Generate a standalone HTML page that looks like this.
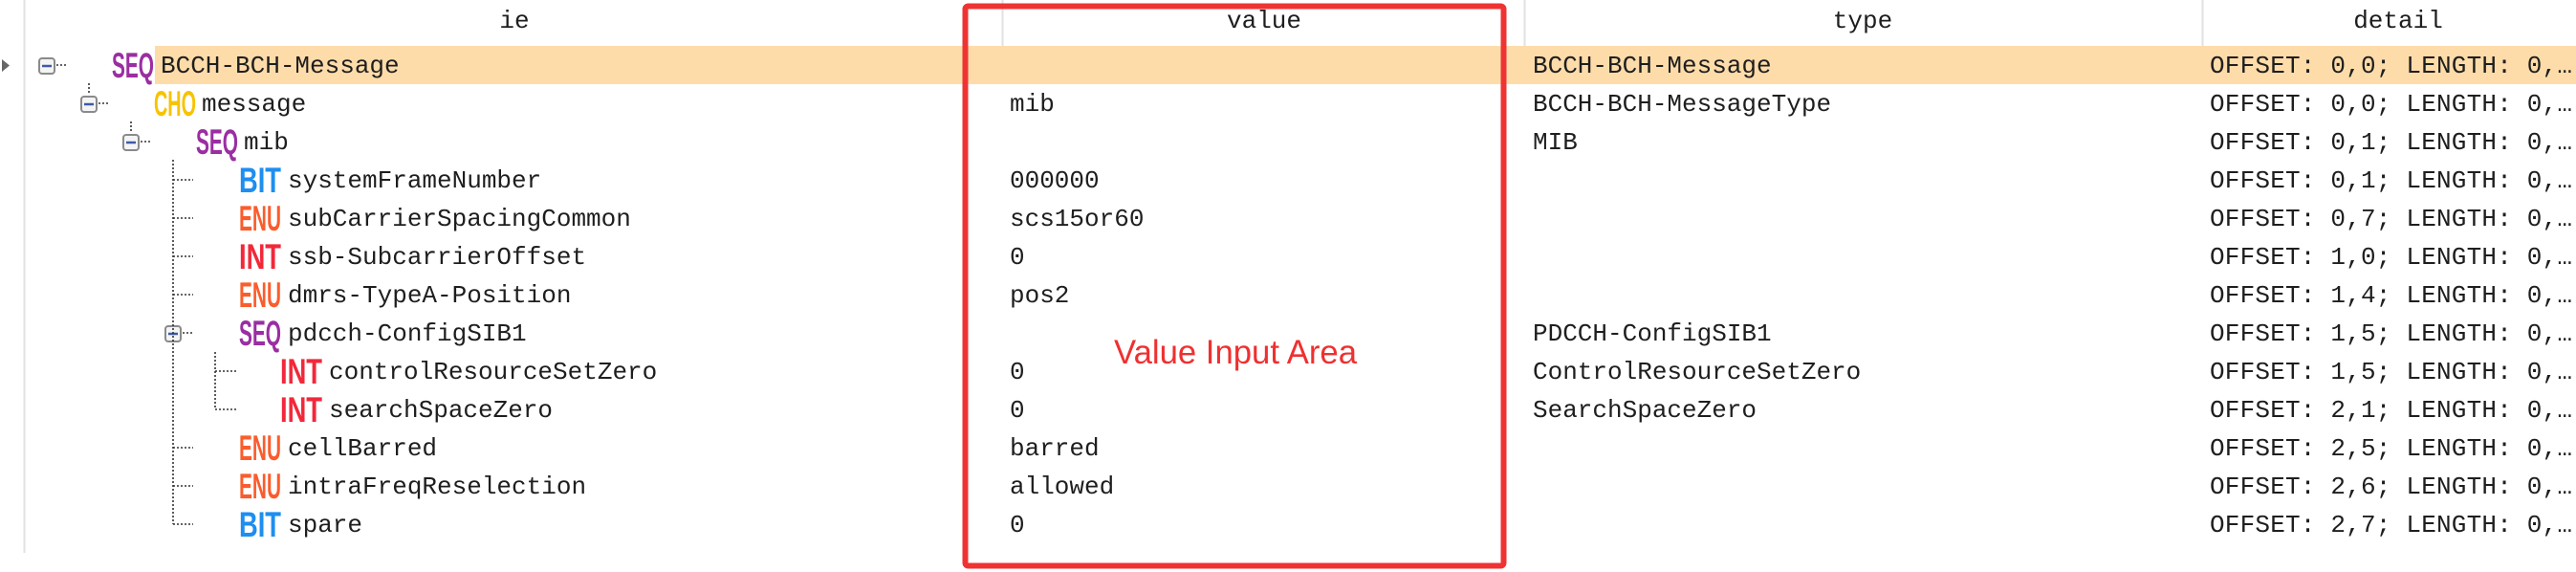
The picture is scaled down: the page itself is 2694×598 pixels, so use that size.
<!DOCTYPE html>
<html><head><meta charset="utf-8"><style>
html,body{margin:0;padding:0;background:#fff;width:2694px;height:598px;overflow:hidden}
svg{display:block}
.t{font-family:"Liberation Mono",monospace;font-size:26px;fill:#1e1e1e}
.h{font-family:"Liberation Mono",monospace;font-size:26px;fill:#1e1e1e}
.ic{font-family:"Liberation Sans",sans-serif;font-weight:bold;font-size:37px}
.dot{stroke:#333;stroke-width:1.6;stroke-dasharray:2 2;fill:none}
</style></head><body>
<svg width="2694" height="598" viewBox="0 0 2694 598" xmlns="http://www.w3.org/2000/svg">
<line x1="25.5" y1="0" x2="25.5" y2="578" stroke="#e2e2e2" stroke-width="2"/>
<line x1="1048.5" y1="0" x2="1048.5" y2="48" stroke="#e2e2e2" stroke-width="2"/>
<line x1="1594.5" y1="0" x2="1594.5" y2="48" stroke="#e2e2e2" stroke-width="2"/>
<line x1="2303.5" y1="0" x2="2303.5" y2="48" stroke="#e2e2e2" stroke-width="2"/>
<text class="h" x="538" y="29" text-anchor="middle">ie</text>
<text class="h" x="1322" y="29" text-anchor="middle">value</text>
<text class="h" x="1948" y="29" text-anchor="middle">type</text>
<text class="h" x="2508" y="29" text-anchor="middle">detail</text>
<rect x="162" y="48" width="2532" height="40" fill="#fedcaa"/>
<polygon points="2,62 10,68.5 2,75" fill="#666"/>
<g fill="#f4f4f4" stroke="#8a8a8a" stroke-width="2">
<rect x="41" y="61" width="16" height="16" rx="3"/>
<rect x="85" y="101" width="16" height="16" rx="3"/>
<rect x="129" y="141" width="16" height="16" rx="3"/>
<rect x="173" y="341" width="16" height="16" rx="3"/>
</g>
<g stroke="#3d5aa8" stroke-width="2.5">
<line x1="44" y1="69" x2="54" y2="69"/><line x1="88" y1="109" x2="98" y2="109"/>
<line x1="132" y1="149" x2="142" y2="149"/><line x1="176" y1="349" x2="186" y2="349"/>
</g>
<g class="dot">
<line x1="59" y1="68" x2="70" y2="68"/>
<line x1="93" y1="87" x2="93" y2="99"/><line x1="103" y1="108" x2="114" y2="108"/>
<line x1="137" y1="127" x2="137" y2="139"/><line x1="147" y1="148" x2="158" y2="148"/>
<line x1="181" y1="167" x2="181" y2="548"/>
<line x1="181" y1="188" x2="202" y2="188"/><line x1="181" y1="228" x2="202" y2="228"/>
<line x1="181" y1="268" x2="202" y2="268"/><line x1="181" y1="308" x2="202" y2="308"/>
<line x1="191" y1="348" x2="202" y2="348"/>
<line x1="181" y1="468" x2="202" y2="468"/><line x1="181" y1="508" x2="202" y2="508"/>
<line x1="181" y1="548" x2="202" y2="548"/>
<line x1="225" y1="368" x2="225" y2="428"/>
<line x1="225" y1="388" x2="247" y2="388"/><line x1="225" y1="428" x2="247" y2="428"/>
</g>
<g class="ic">
<text x="117" y="81" textLength="44" lengthAdjust="spacingAndGlyphs" fill="#9a2ea2">SEQ</text>
<text x="161" y="121" textLength="44" lengthAdjust="spacingAndGlyphs" fill="#f7c300">CHO</text>
<text x="205" y="161" textLength="44" lengthAdjust="spacingAndGlyphs" fill="#9a2ea2">SEQ</text>
<text x="250" y="201" textLength="44" lengthAdjust="spacingAndGlyphs" fill="#1e8ef0">BIT</text>
<text x="250" y="241" textLength="44" lengthAdjust="spacingAndGlyphs" fill="#fb5c2c">ENU</text>
<text x="250" y="281" textLength="44" lengthAdjust="spacingAndGlyphs" fill="#f2283a">INT</text>
<text x="250" y="321" textLength="44" lengthAdjust="spacingAndGlyphs" fill="#fb5c2c">ENU</text>
<text x="250" y="361" textLength="44" lengthAdjust="spacingAndGlyphs" fill="#9a2ea2">SEQ</text>
<text x="293" y="401" textLength="44" lengthAdjust="spacingAndGlyphs" fill="#f2283a">INT</text>
<text x="293" y="441" textLength="44" lengthAdjust="spacingAndGlyphs" fill="#f2283a">INT</text>
<text x="250" y="481" textLength="44" lengthAdjust="spacingAndGlyphs" fill="#fb5c2c">ENU</text>
<text x="250" y="521" textLength="44" lengthAdjust="spacingAndGlyphs" fill="#fb5c2c">ENU</text>
<text x="250" y="561" textLength="44" lengthAdjust="spacingAndGlyphs" fill="#1e8ef0">BIT</text>
</g>
<g class="t">
<text x="168" y="76">BCCH-BCH-Message</text>
<text x="211" y="116">message</text>
<text x="255" y="156">mib</text>
<text x="301" y="196">systemFrameNumber</text>
<text x="301" y="236">subCarrierSpacingCommon</text>
<text x="301" y="276">ssb-SubcarrierOffset</text>
<text x="301" y="316">dmrs-TypeA-Position</text>
<text x="301" y="356">pdcch-ConfigSIB1</text>
<text x="344" y="396">controlResourceSetZero</text>
<text x="344" y="436">searchSpaceZero</text>
<text x="301" y="476">cellBarred</text>
<text x="301" y="516">intraFreqReselection</text>
<text x="301" y="556">spare</text>
</g>
<g class="t">
<text x="1056" y="116">mib</text>
<text x="1056" y="196">000000</text>
<text x="1056" y="236">scs15or60</text>
<text x="1056" y="276">0</text>
<text x="1056" y="316">pos2</text>
<text x="1056" y="396">0</text>
<text x="1056" y="436">0</text>
<text x="1056" y="476">barred</text>
<text x="1056" y="516">allowed</text>
<text x="1056" y="556">0</text>
</g>
<g class="t">
<text x="1603" y="76">BCCH-BCH-Message</text>
<text x="1603" y="116">BCCH-BCH-MessageType</text>
<text x="1603" y="156">MIB</text>
<text x="1603" y="356">PDCCH-ConfigSIB1</text>
<text x="1603" y="396">ControlResourceSetZero</text>
<text x="1603" y="436">SearchSpaceZero</text>
</g>
<g class="t">
<text x="2311" y="76" textLength="379">OFFSET: 0,0; LENGTH: 0,…</text>
<text x="2311" y="116" textLength="379">OFFSET: 0,0; LENGTH: 0,…</text>
<text x="2311" y="156" textLength="379">OFFSET: 0,1; LENGTH: 0,…</text>
<text x="2311" y="196" textLength="379">OFFSET: 0,1; LENGTH: 0,…</text>
<text x="2311" y="236" textLength="379">OFFSET: 0,7; LENGTH: 0,…</text>
<text x="2311" y="276" textLength="379">OFFSET: 1,0; LENGTH: 0,…</text>
<text x="2311" y="316" textLength="379">OFFSET: 1,4; LENGTH: 0,…</text>
<text x="2311" y="356" textLength="379">OFFSET: 1,5; LENGTH: 0,…</text>
<text x="2311" y="396" textLength="379">OFFSET: 1,5; LENGTH: 0,…</text>
<text x="2311" y="436" textLength="379">OFFSET: 2,1; LENGTH: 0,…</text>
<text x="2311" y="476" textLength="379">OFFSET: 2,5; LENGTH: 0,…</text>
<text x="2311" y="516" textLength="379">OFFSET: 2,6; LENGTH: 0,…</text>
<text x="2311" y="556" textLength="379">OFFSET: 2,7; LENGTH: 0,…</text>
</g>
<rect x="1009.5" y="6.5" width="563" height="585" rx="3" fill="none" stroke="#ef3333" stroke-width="6"/>
<text x="1292" y="380" text-anchor="middle" font-family="'Liberation Sans',sans-serif" font-size="35" fill="#ef3030" textLength="254" lengthAdjust="spacingAndGlyphs">Value Input Area</text>
</svg>
</body></html>
